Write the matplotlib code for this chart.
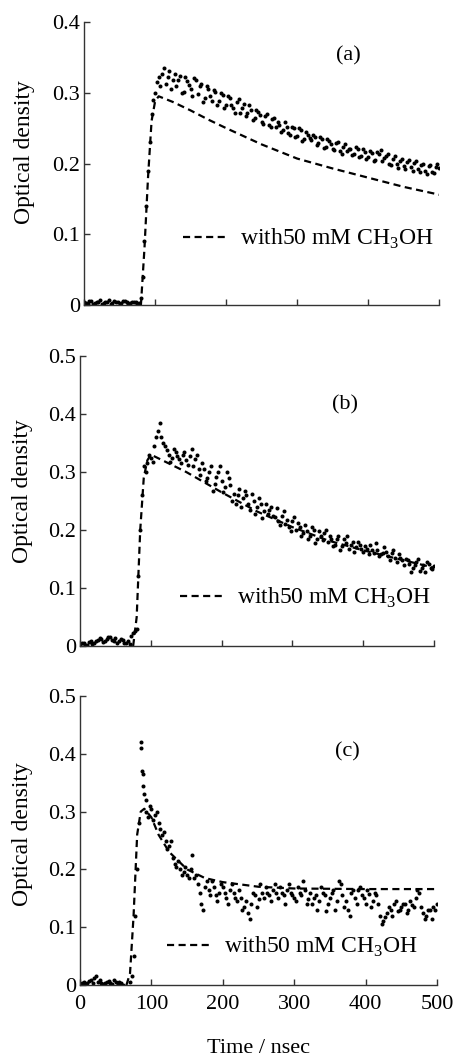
import numpy as np
import matplotlib
matplotlib.use('Agg')
import matplotlib.pyplot as plt

plt.rcParams['font.family'] = ['Liberation Serif', 'DejaVu Serif']
plt.rcParams['mathtext.fontset'] = 'custom'
plt.rcParams['mathtext.rm'] = 'Liberation Serif'

# time axis of the transient (ns): samples every 5 ns, and the in-between samples
t = np.arange(0, 505, 5)
t2 = np.arange(2.5, 500, 5)

# (a) measured optical density
od_a = [0.004, 0.002, 0.006, 0.003, 0.005, 0.002, 0.004, 0.007, 0.003, 0.005, 0.002, 0.006, 0.004, 0.003, 0.005, 0.002,
        0.010, 0.090, 0.190, 0.270, 0.300, 0.322, 0.326, 0.312, 0.331, 0.318, 0.309, 0.323, 0.301, 0.317, 0.306,
        0.321, 0.298, 0.313, 0.293, 0.306, 0.288, 0.301, 0.289, 0.297, 0.283, 0.293, 0.279, 0.287, 0.272, 0.284,
        0.271, 0.275, 0.265, 0.273, 0.259, 0.267, 0.254, 0.263, 0.251, 0.255, 0.247, 0.251, 0.241, 0.250, 0.239,
        0.247, 0.235, 0.241, 0.233, 0.237, 0.229, 0.235, 0.224, 0.232, 0.221, 0.229, 0.218, 0.224, 0.217, 0.221,
        0.213, 0.220, 0.210, 0.216, 0.209, 0.215, 0.205, 0.213, 0.204, 0.211, 0.200, 0.206, 0.199, 0.204, 0.197,
        0.202, 0.195, 0.201, 0.192, 0.198, 0.190, 0.196, 0.188, 0.195, 0.194]
od_a2 = [0.003, 0.006, 0.002, 0.004, 0.007, 0.003, 0.005, 0.002, 0.006, 0.004, 0.003, 0.006, 0.002, 0.005, 0.004, 0.003,
         0.040, 0.140, 0.230, 0.290, 0.315, 0.310, 0.335, 0.322, 0.305, 0.327, 0.318, 0.300, 0.322, 0.311, 0.296,
         0.318, 0.309, 0.287, 0.310, 0.296, 0.304, 0.282, 0.299, 0.278, 0.296, 0.283, 0.272, 0.291, 0.279, 0.267,
         0.282, 0.262, 0.275, 0.268, 0.256, 0.270, 0.252, 0.264, 0.258, 0.245, 0.259, 0.243, 0.252, 0.238, 0.250,
         0.232, 0.245, 0.236, 0.241, 0.226, 0.238, 0.222, 0.234, 0.227, 0.219, 0.231, 0.214, 0.228, 0.220, 0.212,
         0.224, 0.209, 0.221, 0.206, 0.218, 0.203, 0.216, 0.219, 0.208, 0.214, 0.198, 0.211, 0.194, 0.207, 0.192,
         0.205, 0.190, 0.203, 0.188, 0.200, 0.185, 0.198, 0.186, 0.199]
# (a) with 50 mM CH3OH
ta_m = [80, 85, 90, 95, 100, 105, 125, 150, 175, 200, 250, 300, 350, 400, 450, 500]
od_a_m = [0.0, 0.08, 0.18, 0.26, 0.288, 0.295, 0.287, 0.275, 0.262, 0.25, 0.227, 0.207, 0.193, 0.18, 0.167, 0.156]

# (b)
od_b = [0.003, 0.006, 0.002, 0.008, 0.005, 0.010, 0.012, 0.009, 0.015, 0.011, 0.013, 0.008, 0.010, 0.006, 0.004,
        0.022, 0.030, 0.200, 0.310, 0.315, 0.325, 0.345, 0.370, 0.360, 0.345, 0.330, 0.325, 0.335, 0.322, 0.330,
        0.320, 0.328, 0.310, 0.330, 0.295, 0.305, 0.290, 0.310, 0.280, 0.300, 0.285, 0.275, 0.290, 0.250, 0.245,
        0.270, 0.255, 0.260, 0.235, 0.250, 0.240, 0.245, 0.232, 0.228, 0.240, 0.222, 0.215, 0.225, 0.210, 0.205,
        0.215, 0.200, 0.205, 0.195, 0.198, 0.190, 0.200, 0.185, 0.190, 0.195, 0.180, 0.185, 0.175, 0.190, 0.172,
        0.178, 0.168, 0.180, 0.170, 0.175, 0.162, 0.168, 0.175, 0.160, 0.165, 0.158, 0.170, 0.155, 0.160, 0.152,
        0.158, 0.148, 0.150, 0.142, 0.135, 0.145, 0.130, 0.140, 0.145, 0.135, 0.138]
od_b2 = [0.005, 0.002, 0.007, 0.004, 0.009, 0.014, 0.007, 0.012, 0.016, 0.009, 0.006, 0.012, 0.005, 0.008, 0.018,
         0.026, 0.120, 0.260, 0.300, 0.330, 0.318, 0.360, 0.385, 0.350, 0.338, 0.318, 0.340, 0.328, 0.315, 0.335,
         0.312, 0.340, 0.322, 0.305, 0.315, 0.285, 0.300, 0.268, 0.292, 0.310, 0.265, 0.300, 0.278, 0.262, 0.260,
         0.240, 0.268, 0.245, 0.262, 0.228, 0.255, 0.220, 0.245, 0.235, 0.225, 0.238, 0.208, 0.232, 0.218, 0.198,
         0.222, 0.212, 0.190, 0.208, 0.185, 0.205, 0.178, 0.198, 0.182, 0.200, 0.190, 0.172, 0.185, 0.165, 0.185,
         0.190, 0.175, 0.162, 0.180, 0.168, 0.172, 0.158, 0.165, 0.178, 0.155, 0.160, 0.162, 0.148, 0.165, 0.145,
         0.152, 0.140, 0.148, 0.128, 0.140, 0.150, 0.135, 0.128, 0.142, 0.132]
tb_m = [75, 80, 85, 90, 95, 100, 125, 150, 200, 250, 300, 350, 400, 450, 500]
od_b_m = [0.0, 0.05, 0.2, 0.29, 0.32, 0.33, 0.315, 0.3, 0.265, 0.232, 0.205, 0.182, 0.165, 0.15, 0.135]

# (c)
od_c = [0.002, 0.005, 0.004, 0.008, 0.012, 0.006, 0.004, 0.003, 0.007, 0.002, 0.005, 0.006, 0.000, -0.012, 0.005,
        0.050, 0.200, 0.420, 0.330, 0.290, 0.305, 0.295, 0.280, 0.260, 0.250, 0.240, 0.220, 0.205, 0.200, 0.195,
        0.190, 0.200, 0.185, 0.175, 0.140, 0.170, 0.165, 0.180, 0.155, 0.160, 0.170, 0.150, 0.165, 0.160, 0.145,
        0.150, 0.135, 0.125, 0.140, 0.155, 0.148, 0.160, 0.170, 0.155, 0.165, 0.160, 0.170, 0.155, 0.165, 0.160,
        0.150, 0.170, 0.155, 0.165, 0.148, 0.140, 0.155, 0.145, 0.160, 0.128, 0.150, 0.165, 0.145, 0.175, 0.135,
        0.130, 0.160, 0.150, 0.165, 0.155, 0.140, 0.158, 0.145, 0.155, 0.120, 0.110, 0.125, 0.130, 0.140, 0.128,
        0.135, 0.140, 0.130, 0.138, 0.150, 0.160, 0.125, 0.120, 0.130, 0.135, 0.140]
od_c2 = [0.004, 0.001, 0.007, 0.003, 0.015, 0.008, 0.002, 0.006, 0.004, 0.009, 0.001, 0.003, -0.008,
         -0.005, 0.015, 0.120, 0.280, 0.365, 0.300, 0.310, 0.285, 0.300, 0.270, 0.265, 0.235, 0.250, 0.210,
         0.215, 0.190, 0.205, 0.185, 0.225, 0.190, 0.160, 0.130, 0.180, 0.155, 0.170, 0.145, 0.175, 0.160,
         0.140, 0.175, 0.150, 0.165, 0.130, 0.145, 0.115, 0.160, 0.135, 0.175, 0.150, 0.160, 0.145, 0.175,
         0.150, 0.160, 0.140, 0.175, 0.155, 0.145, 0.160, 0.180, 0.140, 0.160, 0.150, 0.130, 0.170, 0.155,
         0.140, 0.160, 0.130, 0.180, 0.155, 0.145, 0.120, 0.165, 0.140, 0.170, 0.150, 0.165, 0.135, 0.160,
         0.140, 0.105, 0.118, 0.135, 0.120, 0.145, 0.130, 0.140, 0.125, 0.145, 0.135, 0.165, 0.135, 0.115,
         0.130, 0.115, 0.130]
tc_spike = [86, 87, 88, 92]
od_c_spike = [0.41, 0.37, 0.345, 0.32]
tc_m = [65, 70, 75, 80, 85, 90, 100, 110, 125, 150, 175, 200, 250, 300, 400, 500]
od_c_m = [0.0, 0.02, 0.12, 0.26, 0.30, 0.305, 0.29, 0.26, 0.23, 0.2, 0.185, 0.178, 0.17, 0.167, 0.166, 0.166]

panels = [
    ('(a)', od_a, od_a2, None, None, ta_m, od_a_m, 0.4, [0.1828, 0.7114, 0.772, 0.2678], (372, 0.352),
     (0.279, 0.233), (-0.138, 0.54)),
    ('(b)', od_b, od_b2, None, None, tb_m, od_b_m, 0.5, [0.174, 0.3888, 0.7696, 0.2744], (374, 0.415),
     (0.282, 0.166), (-0.133, 0.534)),
    ('(c)', od_c, od_c2, tc_spike, od_c_spike, tc_m, od_c_m, 0.5, [0.174, 0.0681, 0.776, 0.2734], (374, 0.403),
     (0.244, 0.131), (-0.132, 0.522)),
]

fig = plt.figure(figsize=(4.6, 10.57), dpi=100)
for i, (tag, od, od2, ts, ods, tm, odm, ymax, pos, tagxy, legxy, ylxy) in enumerate(panels):
    ax = fig.add_axes(pos)
    ax.plot(t, od, linestyle='None', color='black', marker='o', markersize=2.9, markeredgewidth=0)
    ax.plot(t2, od2, linestyle='None', color='black', marker='o', markersize=2.9, markeredgewidth=0)
    if ts is not None:
        ax.plot(ts, ods, linestyle='None', marker='o', markersize=2.9, markeredgewidth=0, color='black')
    ax.plot(tm, odm, linestyle=(0, (3.2, 2)), linewidth=1.6, color='black', label='with50 mM CH$_3$OH')
    ax.set_xlim(0, 500)
    ax.set_ylim(0, ymax)
    ax.set_xticks([0, 100, 200, 300, 400, 500])
    yt = np.arange(0, ymax + 0.01, 0.1)
    ax.set_yticks(yt)
    ax.set_yticklabels(['0'] + [f'{v:.1f}' for v in yt[1:]])
    ax.spines['top'].set_visible(False)
    ax.spines['right'].set_visible(False)
    for s in ['left', 'bottom']:
        ax.spines[s].set_linewidth(1.0)
        ax.spines[s].set_color('#333333')
    ax.tick_params(direction='in', length=4, width=1.0, labelsize=16, pad=3, color='#333333')
    if i < 2:
        ax.tick_params(axis='x', labelbottom=False)
    else:
        ax.tick_params(axis='x', pad=7)
        ax.set_xlabel('Time / nsec', fontsize=16, labelpad=18)
    ax.set_ylabel('Optical density', fontsize=17)
    ax.yaxis.set_label_coords(ylxy[0], ylxy[1])
    ax.text(tagxy[0], tagxy[1], tag, fontsize=16, ha='center', va='center')
    ax.legend(loc='center left', bbox_to_anchor=legxy, frameon=False, fontsize=17,
              handlelength=1.9, handletextpad=0.5, borderpad=0, borderaxespad=0)

fig.savefig('out.png', dpi=100)
